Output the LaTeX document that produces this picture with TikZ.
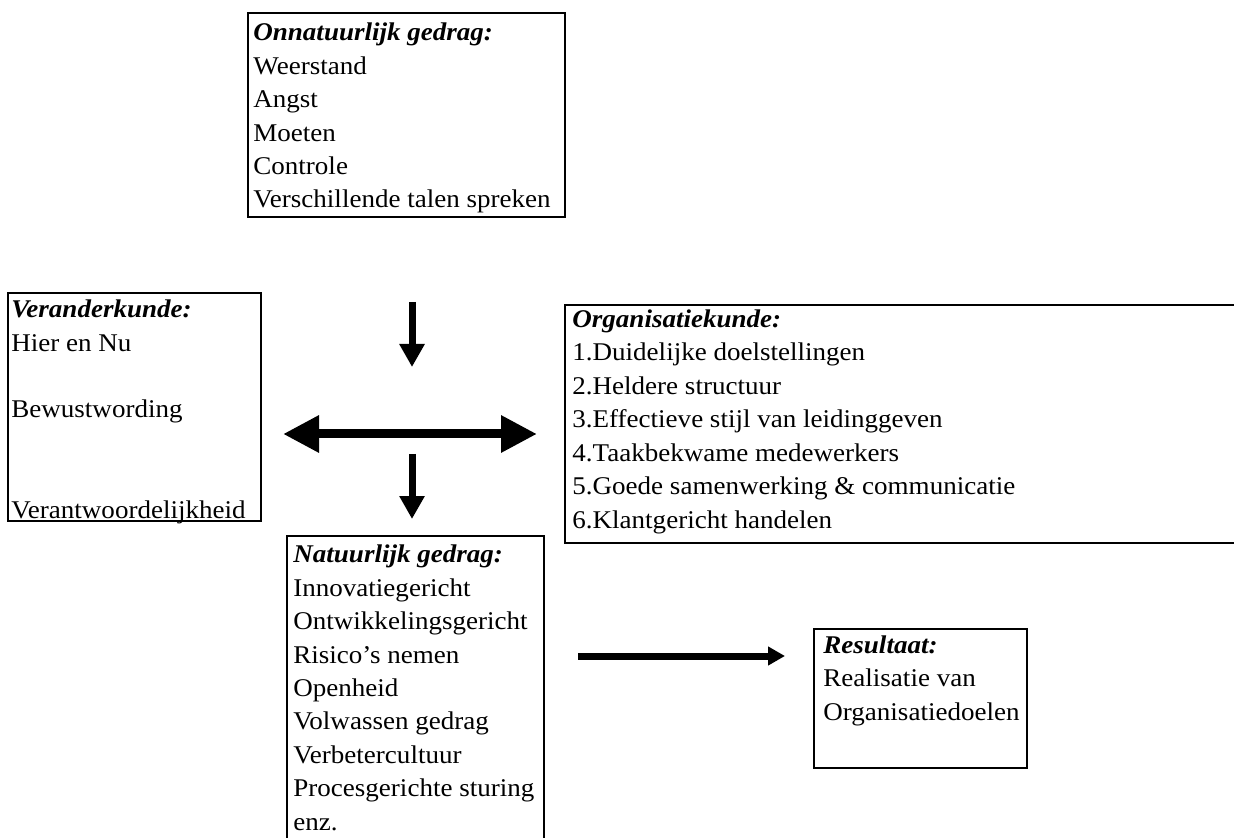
\documentclass[tikz,border=0pt]{standalone}
\usepackage{fontspec}
\setmainfont{Liberation Serif}[FakeStretch=1.06]
\usepackage{tikz}
\usetikzlibrary{arrows.meta}

\begin{document}
\begin{tikzpicture}[x=0.5pt,y=-0.5pt,
box/.style={draw=black,line width=1pt,anchor=north west,inner sep=0,outer sep=0},
boxText/.style={anchor=base west,align=left,inner sep=0,font=\fontsize{12.75}{16.7}\selectfont},
smallArrow/.style={line width=3.5pt,-{Triangle[length=11.5pt,width=12pt]}},
bigArrow/.style={line width=4.5pt,{Triangle[length=18pt,width=17.5pt]}-{Triangle[length=18pt,width=17.5pt]}},
longArrow/.style={line width=3.5pt,-{Triangle[length=8.5pt,width=9pt]}}
]
\useasboundingbox (0,0) rectangle (1234,838);
% boxes
\node[box,minimum width=158.5pt,minimum height=102pt] (onnat) at (248,13) {};
\node[box,minimum width=126.5pt,minimum height=114pt] (verander) at (8,293) {};
\node[box,minimum width=340pt,minimum height=119pt] (organisatie) at (565,305) {};
\node[box,minimum width=128.5pt,minimum height=157pt] (natuur) at (287,536) {};
\node[box,minimum width=106.5pt,minimum height=69.5pt] (resultaat) at (814,629) {};
% texts (placed at the baseline of the last line)
\node[boxText] (onnatText) at (253,208) {\textbf{\textit{Onnatuurlijk gedrag:}}\\Weerstand\\Angst\\Moeten\\Controle\\Verschillende talen spreken};
\node[boxText] (veranderText) at (11,518) {\textbf{\textit{Veranderkunde:}}\\Hier en Nu\\~\\Bewustwording\\~\\~\\Verantwoordelijkheid};
\node[boxText] (organisatieText) at (572,528) {\textbf{\textit{Organisatiekunde:}}\\1.Duidelijke doelstellingen\\2.Heldere structuur\\3.Effectieve stijl van leidinggeven\\4.Taakbekwame medewerkers\\5.Goede samenwerking \& communicatie\\6.Klantgericht handelen};
\node[boxText] (natuurText) at (293,830) {\textbf{\textit{Natuurlijk gedrag:}}\\Innovatiegericht\\Ontwikkelingsgericht\\Risico’s nemen\\Openheid\\Volwassen gedrag\\Verbetercultuur\\Procesgerichte sturing\\enz.};
\node[boxText] (resultaatText) at (823,720) {\textbf{\textit{Resultaat:}}\\Realisatie van\\Organisatiedoelen};
% arrows
\coordinate (inTop) at (412,302);
\coordinate (inTip) at (412,367);
\coordinate (leftTip) at (283,434);
\coordinate (rightTip) at (537,434);
\coordinate (outTop) at (412,454);
\coordinate (outTip) at (412,519);
\coordinate (resStart) at (578,656);
\coordinate (resTip) at (785,656);
\draw[smallArrow] (inTop) -- (inTip);
\draw[bigArrow] (leftTip) -- (rightTip);
\draw[smallArrow] (outTop) -- (outTip);
\draw[longArrow] (resStart) -- (resTip);
\end{tikzpicture}
\end{document}
